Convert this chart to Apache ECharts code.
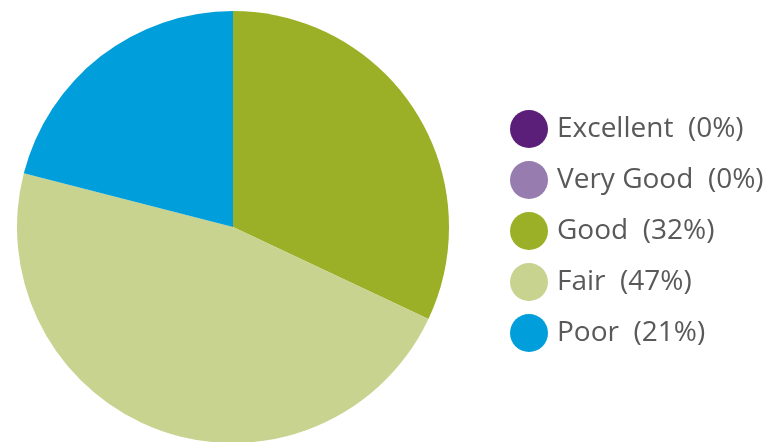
<!DOCTYPE html>
<html lang="en">
<head>
  <meta charset="UTF-8">
  <title>Rating</title>
  <script src="https://cdn.jsdelivr.net/npm/echarts@6/dist/echarts.min.js"></script>
  <style>
    html, body { margin: 0; padding: 0; background: #fff; }
    #chart { width: 769px; height: 442px; }
  </style>
</head>
<body>
<div id="chart"></div>
<script>
  // ratings and their share (percent)
  let categories = ["Excellent", "Very Good", "Good", "Fair", "Poor"];
  let percents = [0, 0, 32, 47, 21];
  let colors = ["#5b1f79", "#967caf", "#9bb026", "#c7d38f", "#009edb"];

  function init_chart() {
    let myChart = echarts.init(document.getElementById("chart"));
    let pieData = [];
    for (let i = 0; i < categories.length; i++) {
      pieData.push({ name: categories[i], value: percents[i], itemStyle: { color: colors[i] } });
    }

    let option = {
      animation: false,
      legend: {
        orient: "vertical",
        left: 510,
        top: 110,
        padding: 0,
        icon: "circle",
        itemWidth: 38,
        itemHeight: 38,
        itemGap: 13,
        textStyle: {
          fontFamily: "Open Sans",
          fontSize: 28,
          color: "#595959",
          padding: [0, 0, 0, 4]
        },
        formatter: function (name) {
          let idx = categories.indexOf(name);
          return name + "  (" + percents[idx] + "%)";
        },
        data: categories
      },
      series: [
        {
          type: "pie",
          center: [233, 227],
          radius: 216,
          startAngle: 90,
          clockwise: true,
          avoidLabelOverlap: false,
          label: { show: false },
          labelLine: { show: false },
          emphasis: { disabled: true },
          data: pieData
        }
      ]
    };
    myChart.setOption(option, true);
  }
  init_chart();
</script>
</body>
</html>
